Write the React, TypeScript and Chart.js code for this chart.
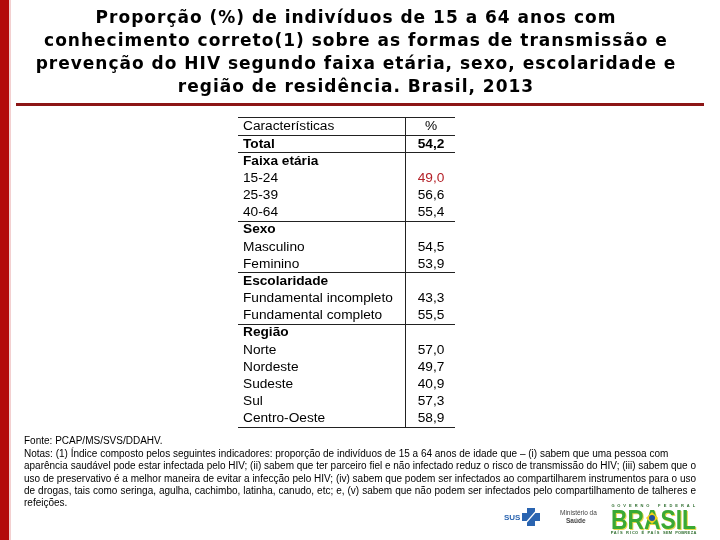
import React, { useEffect, useRef } from 'react';
import { Chart, registerables } from 'chart.js';

Chart.register(...registerables);

const titleLines = [
  'Proporção (%) de indivíduos de 15 a 64 anos com',
  'conhecimento correto(1) sobre as formas de transmissão e',
  'prevenção do HIV segundo faixa etária, sexo, escolaridade e',
  'região de residência. Brasil, 2013',
];

const rowLabels = [
  'Características',
  'Total',
  'Faixa etária',
  '15-24',
  '25-39',
  '40-64',
  'Sexo',
  'Masculino',
  'Feminino',
  'Escolaridade',
  'Fundamental incompleto',
  'Fundamental completo',
  'Região',
  'Norte',
  'Nordeste',
  'Sudeste',
  'Sul',
  'Centro-Oeste',
];

const values: (number | null)[] = [
  null, 54.2, null, 49.0, 56.6, 55.4, null, 54.5, 53.9, null, 43.3, 55.5, null, 57.0, 49.7, 40.9, 57.3, 58.9,
];

const valueHeader = '%';
const boldRows = ['Total', 'Faixa etária', 'Sexo', 'Escolaridade', 'Região'];
const highlightRows = ['15-24'];
const ruleAfterRows = ['Características', 'Total', '40-64', 'Feminino', 'Fundamental completo'];

const sourceLine = 'Fonte: PCAP/MS/SVS/DDAHV.';
const noteLines = [
  'Notas: (1) Índice composto pelos seguintes indicadores: proporção de indivíduos de 15 a 64 anos de idade que – (i) sabem que uma pessoa com',
  'aparência saudável pode estar infectada pelo HIV; (ii) sabem que ter parceiro fiel e não infectado reduz o risco de transmissão do HIV; (iii) sabem que o',
  'uso de preservativo é a melhor maneira de evitar a infecção pelo HIV; (iv) sabem que podem ser infectados ao compartilharem instrumentos para o uso',
  'de drogas, tais como seringa, agulha, cachimbo, latinha, canudo, etc; e, (v) sabem que não podem ser infectados pelo compartilhamento de talheres e',
  'refeições.',
];
const justifiedNotes = [false, true, true, true, false];

const TABLE_FONT = '"Liberation Sans", Arial, sans-serif';
const TITLE_FONT = '"DejaVu Sans", Verdana, sans-serif';
const TABLE_SIZE = 13.7;

function fmt(v: number) {
  return v.toFixed(1).replace('.', ',');
}

function drawLine(ctx: CanvasRenderingContext2D, text: string, x: number, y: number, width: number, justify: boolean) {
  const natural = ctx.measureText(text).width;
  if (!justify || natural >= width) {
    ctx.fillText(text, x, y, natural > width ? width : undefined);
    return;
  }
  const words = text.split(' ');
  const wordsW = words.reduce((s, w) => s + ctx.measureText(w).width, 0);
  const gap = (width - wordsW) / (words.length - 1);
  let cx = x;
  for (const w of words) {
    ctx.fillText(w, cx, y);
    cx += ctx.measureText(w).width + gap;
  }
}

function spreadText(ctx: CanvasRenderingContext2D, text: string, x0: number, x1: number, y: number) {
  const chars = Array.from(text);
  const step = (x1 - x0) / (chars.length - 1);
  ctx.textAlign = 'center';
  chars.forEach((c, i) => ctx.fillText(c, x0 + i * step, y));
}

const slidePlugin = {
  id: 'slide',
  beforeDraw(chart: any) {
    const ctx: CanvasRenderingContext2D = chart.ctx;
    ctx.save();
    ctx.fillStyle = '#ffffff';
    ctx.fillRect(0, 0, chart.width, chart.height);
    ctx.fillStyle = '#b30b0b';
    ctx.fillRect(0, 0, 9, chart.height);
    ctx.fillStyle = 'rgba(220,120,120,0.35)';
    ctx.fillRect(9, 0, 2, chart.height);
    ctx.fillStyle = '#000';
    ctx.font = `bold 17px ${TITLE_FONT}`;
    (ctx as any).letterSpacing = '1px';
    ctx.textAlign = 'center';
    ctx.textBaseline = 'middle';
    titleLines.forEach((t, i) => ctx.fillText(t, 356, 19 + i * 23));
    (ctx as any).letterSpacing = '0px';
    ctx.fillStyle = '#8c1515';
    ctx.fillRect(16, 103, 688, 3);
    ctx.restore();
  },
  afterDraw(chart: any) {
    const ctx: CanvasRenderingContext2D = chart.ctx;
    const y = chart.scales.y;
    const area = chart.chartArea;
    const left = y.left - 5;
    const right = area.right;
    ctx.save();
    // rules
    ctx.strokeStyle = '#222';
    ctx.lineWidth = 1;
    const hline = (py: number) => {
      const yy = Math.floor(py) + 0.5;
      ctx.beginPath();
      ctx.moveTo(left, yy);
      ctx.lineTo(right, yy);
      ctx.stroke();
    };
    hline(area.top - 1);
    hline(area.bottom);
    ruleAfterRows.forEach((r) => {
      const i = rowLabels.indexOf(r);
      hline((y.getPixelForValue(i) + y.getPixelForValue(i + 1)) / 2);
    });
    const dx = Math.floor(area.left) + 0.5;
    ctx.beginPath();
    ctx.moveTo(dx, area.top - 1);
    ctx.lineTo(dx, area.bottom);
    ctx.stroke();
    // values
    const cx = (area.left + area.right) / 2 + 1;
    ctx.textAlign = 'center';
    ctx.textBaseline = 'middle';
    rowLabels.forEach((r, i) => {
      const py = y.getPixelForValue(i);
      const v = values[i];
      const bold = boldRows.includes(r);
      ctx.font = `${bold ? 'bold ' : ''}${TABLE_SIZE}px ${TABLE_FONT}`;
      ctx.fillStyle = highlightRows.includes(r) ? '#b5232a' : '#000';
      if (i === 0) ctx.fillText(valueHeader, cx, py);
      else if (v !== null) ctx.fillText(fmt(v), cx, py);
    });
    // notes
    ctx.fillStyle = '#000';
    ctx.textAlign = 'left';
    ctx.textBaseline = 'middle';
    ctx.font = `10px ${TABLE_FONT}`;
    ctx.fillText(sourceLine, 24, 441);
    noteLines.forEach((t, i) => drawLine(ctx, t, 24, 454 + i * 12.4, 672, justifiedNotes[i]));
    // logos
    ctx.fillStyle = '#2a64b0';
    ctx.font = `bold 8px ${TABLE_FONT}`;
    ctx.textAlign = 'left';
    ctx.fillText('SUS', 504, 518);
    ctx.fillRect(522, 513, 18, 8);
    ctx.fillRect(527, 508, 8, 18);
    ctx.strokeStyle = '#fff';
    ctx.lineWidth = 1.2;
    ctx.beginPath();
    ctx.moveTo(524, 525);
    ctx.lineTo(538, 509);
    ctx.stroke();
    ctx.fillStyle = '#444';
    ctx.font = `6.5px ${TABLE_FONT}`;
    ctx.fillText('Ministério da', 560, 513);
    ctx.font = `bold 6.5px ${TABLE_FONT}`;
    ctx.fillText('Saúde', 566, 521);
    ctx.fillStyle = '#2f6e2f';
    ctx.font = `bold 4px ${TABLE_FONT}`;
    spreadText(ctx, 'GOVERNO FEDERAL', 613, 694, 506);
    spreadText(ctx, 'PAÍS RICO É PAÍS SEM POBREZA', 612, 695, 533);
    ctx.textAlign = 'left';
    ctx.textBaseline = 'alphabetic';
    ctx.font = `bold 28px ${TABLE_FONT}`;
    ctx.fillStyle = '#e8d84a';
    ctx.fillText('BRASIL', 612, 530, 85);
    ctx.fillStyle = '#3aa935';
    ctx.fillText('BRASIL', 611, 529, 85);
    ctx.fillStyle = '#f3d21b';
    ctx.beginPath();
    ctx.moveTo(652, 512);
    ctx.lineTo(658, 518);
    ctx.lineTo(652, 524);
    ctx.lineTo(646, 518);
    ctx.closePath();
    ctx.fill();
    ctx.fillStyle = '#1f4fa0';
    ctx.beginPath();
    ctx.arc(652, 518, 3, 0, Math.PI * 2);
    ctx.fill();
    ctx.restore();
  },
};

export default function App() {
  const ref = useRef<HTMLCanvasElement | null>(null);
  useEffect(() => {
    if (!ref.current) return;
    const chart = new Chart(ref.current, {
      type: 'bar',
      data: {
        labels: rowLabels,
        datasets: [
          {
            label: 'Proporção (%)',
            data: values,
            backgroundColor: 'rgba(0,0,0,0)',
            borderWidth: 0,
          },
        ],
      },
      options: {
        indexAxis: 'y',
        responsive: false,
        animation: false,
        layout: { padding: { left: 243, right: 265, top: 118, bottom: 113 } },
        plugins: { legend: { display: false }, tooltip: { enabled: false }, title: { display: false } },
        scales: {
          x: { display: false, min: 0, max: 100 },
          y: {
            display: true,
            grid: { display: false },
            border: { display: false },
            afterFit: (scale: any) => {
              scale.width = 162;
            },
            ticks: {
              autoSkip: false,
              crossAlign: 'far',
              padding: 0,
              color: '#000',
              font: (c: any) => ({
                family: TABLE_FONT,
                size: TABLE_SIZE,
                weight: boldRows.includes(rowLabels[c.index]) ? 'bold' : 'normal',
              }),
            },
          },
        },
      },
      plugins: [slidePlugin],
    } as any);
    return () => chart.destroy();
  }, []);
  return (
    <div style={{ position: 'absolute', left: 0, top: 0, width: 720, height: 540, background: '#fff' }}>
      <canvas ref={ref} width={720} height={540} />
    </div>
  );
}
